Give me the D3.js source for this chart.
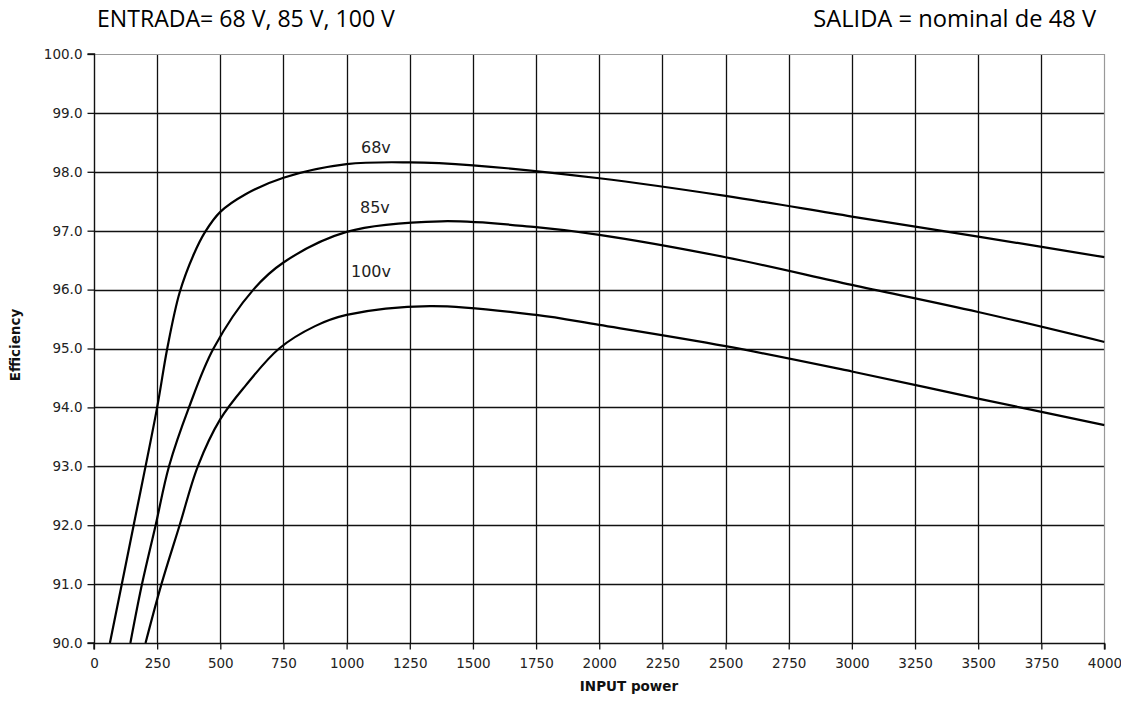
<!DOCTYPE html>
<html>
<head>
<meta charset="utf-8">
<script src="https://cdn.jsdelivr.net/npm/d3@7"></script>
<style>
  html, body { margin: 0; padding: 0; background: #fff; }
  svg { display: block; }
</style>
</head>
<body>
<svg id="chart" width="1121" height="714"></svg>
<script>
// ---- Data ----
const xTicks = [0,250,500,750,1000,1250,1500,1750,2000,2250,2500,2750,3000,3250,3500,3750,4000];
const yTicks = [90,91,92,93,94,95,96,97,98,99,100];

const seriesNames = ["68v", "85v", "100v"];

const power68 = [63,157,250,290,339,395,440,500,600,750,1000,1250,1500,2000,2500,3000,3500,4000];
const eff68   = [90,92,94,95,95.95,96.6,96.98,97.32,97.62,97.9,98.13,98.16,98.11,97.89,97.59,97.24,96.9,96.55];

const power85 = [144,190,244,297,376,473,631,750,1000,1375,1750,2000,2500,3000,3500,4000];
const eff85   = [90,91,92,93,94,95,96,96.46,96.98,97.16,97.06,96.93,96.55,96.08,95.62,95.11];

const power100 = [204,267,339,411,500,600,733,875,1000,1330,1750,2000,2500,3000,3500,4000];
const eff100   = [90,91,92,93,93.8,94.37,95,95.38,95.57,95.72,95.57,95.40,95.04,94.61,94.15,93.70];

const titleLeft = "ENTRADA= 68 V, 85 V, 100 V";
const titleRight = "SALIDA = nominal de 48 V";
const xTitle = "INPUT power";
const yTitle = "Efficiency";

// ---- Layout ----
const svg = d3.select("#chart");
const pLeft = 94, pRight = 1104.5, pTop = 54, pBottom = 643;

const x = d3.scaleLinear().domain([0, 4000]).range([pLeft, pRight]);
const y = d3.scaleLinear().domain([90, 100]).range([pBottom, pTop]);

// clip
svg.append("defs").append("clipPath").attr("id", "plotclip")
  .append("rect").attr("x", pLeft).attr("y", pTop).attr("width", pRight - pLeft).attr("height", pBottom - pTop);

// gridlines
const grid = svg.append("g");
grid.selectAll("line.h").data(yTicks.filter(d => d !== 100 && d !== 90)).join("line")
  .attr("x1", pLeft).attr("x2", pRight)
  .attr("y1", d => Math.round(y(d)) + 0.5).attr("y2", d => Math.round(y(d)) + 0.5)
  .attr("stroke", "#111").attr("stroke-width", 1.3);
grid.selectAll("line.v").data(xTicks.filter(d => d !== 0 && d !== 4000)).join("line")
  .attr("y1", pTop).attr("y2", pBottom)
  .attr("x1", d => Math.round(x(d)) + 0.5).attr("x2", d => Math.round(x(d)) + 0.5)
  .attr("stroke", "#111").attr("stroke-width", 1.3);

// plot border (top & right gray)
svg.append("line").attr("x1", pLeft).attr("x2", pRight).attr("y1", pTop + 0.5).attr("y2", pTop + 0.5)
  .attr("stroke", "#999").attr("stroke-width", 1.2);
svg.append("line").attr("x1", pRight).attr("x2", pRight).attr("y1", pTop).attr("y2", pBottom)
  .attr("stroke", "#999").attr("stroke-width", 1.2);

// axes
const yAxis = d3.axisLeft(y).tickValues(yTicks).tickFormat(d3.format(".1f")).tickSize(7).tickPadding(5);
const xAxis = d3.axisBottom(x).tickValues(xTicks).tickFormat(d3.format("d")).tickSize(6).tickPadding(9);

const gy = svg.append("g").attr("transform", `translate(${pLeft + 0.5},0)`).call(yAxis);
const gx = svg.append("g").attr("transform", `translate(0,${pBottom + 0.5})`).call(xAxis);
[gx, gy].forEach(g => {
  g.select(".domain").attr("stroke", "#111").attr("stroke-width", 1.4);
  g.selectAll(".tick line").attr("stroke", "#111").attr("stroke-width", 1.3);
  g.selectAll(".tick text").attr("fill", "#222")
    .style("font-family", "'DejaVu Sans', sans-serif").style("font-size", "13.5px");
});
gy.select(".domain").attr("d", `M-7,${pTop}H0V${pBottom}H-7`);
gx.select(".domain").attr("d", `M${pLeft},6V0H${pRight}V6`);

// curves
const line = d3.line().x(d => x(d[0])).y(d => y(d[1])).curve(d3.curveCatmullRom.alpha(0.5));
const series = [
  d3.zip(power68, eff68),
  d3.zip(power85, eff85),
  d3.zip(power100, eff100)
];
svg.append("g").attr("clip-path", "url(#plotclip)")
  .selectAll("path").data(series).join("path")
  .attr("d", line).attr("fill", "none").attr("stroke", "#000").attr("stroke-width", 2.2)
  .attr("stroke-linejoin", "round");

// series labels
const labelPos = [[361, 153], [360, 213], [351, 277]];
svg.append("g").selectAll("text").data(seriesNames).join("text")
  .attr("x", (d, i) => labelPos[i][0]).attr("y", (d, i) => labelPos[i][1])
  .text(d => d)
  .attr("fill", "#222")
  .style("font-family", "'DejaVu Sans', sans-serif").style("font-size", "16px");

// axis titles
svg.append("text").attr("x", 629).attr("y", 691).attr("text-anchor", "middle")
  .text(xTitle).attr("fill", "#111")
  .style("font-family", "'DejaVu Sans', sans-serif").style("font-size", "13.5px").style("font-weight", "bold");
svg.append("text").attr("transform", "translate(20,345) rotate(-90)").attr("text-anchor", "middle")
  .text(yTitle).attr("fill", "#111")
  .style("font-family", "'DejaVu Sans', sans-serif").style("font-size", "13.5px").style("font-weight", "bold");

// headings, fit to measured widths
function fitText(sel, targetW) {
  const base = 20;
  sel.style("font-size", base + "px");
  const w = sel.node().getComputedTextLength();
  sel.style("font-size", (base * targetW / w) + "px");
}
const t1 = svg.append("text").attr("x", 97).attr("y", 26.5).text(titleLeft)
  .attr("fill", "#000").style("font-family", "'Open Sans', sans-serif");
fitText(t1, 298);
const t2 = svg.append("text").attr("x", 1096).attr("y", 26.5).attr("text-anchor", "end").text(titleRight)
  .attr("fill", "#000").style("font-family", "'Open Sans', sans-serif");
fitText(t2, 283);
</script>
</body>
</html>
